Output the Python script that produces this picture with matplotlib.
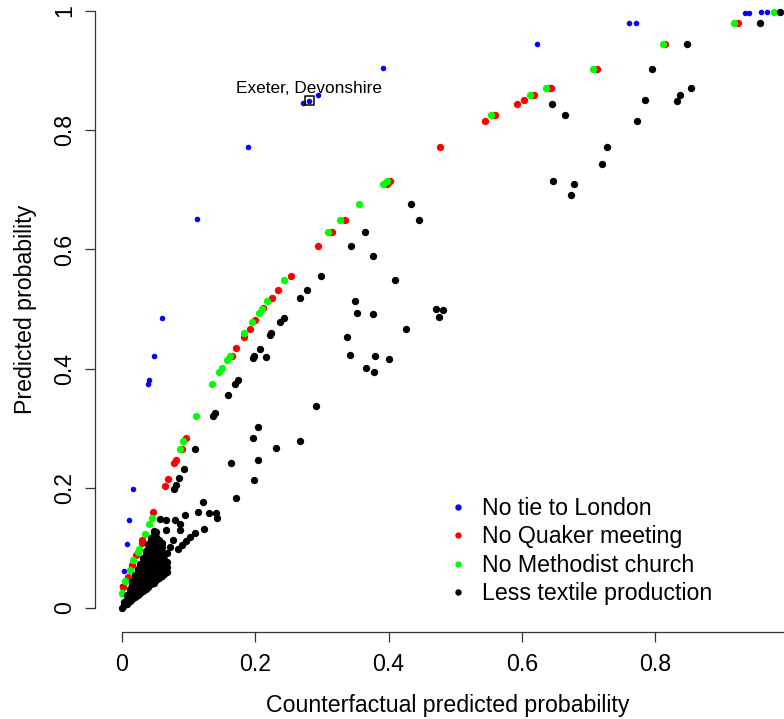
import matplotlib
matplotlib.use("Agg")
import matplotlib.pyplot as plt
from matplotlib.lines import Line2D

plt.rcParams['font.family'] = ['Liberation Sans', 'DejaVu Sans']

# No tie to London
blue_x = [0.968, 0.958, 0.941, 0.934, 0.771, 0.760, 0.623, 0.392, 0.295, 0.281,
          0.272, 0.190, 0.113, 0.061, 0.048, 0.041, 0.039, 0.0165, 0.011, 0.0075,
          0.0034, 0.001, 0.0]
blue_y = [0.998, 0.998, 0.996, 0.996, 0.980, 0.980, 0.944, 0.904, 0.858, 0.849,
          0.845, 0.772, 0.651, 0.485, 0.422, 0.381, 0.374, 0.198, 0.147, 0.106,
          0.062, 0.037, 0.023]

# No Quaker meeting
red_x = [0.924, 0.815, 0.712, 0.644, 0.642, 0.618, 0.603, 0.592, 0.560, 0.544,
         0.477, 0.402, 0.397, 0.335, 0.315, 0.294, 0.254, 0.235, 0.226, 0.212,
         0.200, 0.192, 0.184, 0.172, 0.166, 0.097, 0.090, 0.081, 0.079, 0.069,
         0.065, 0.047, 0.031, 0.030, 0.021, 0.015, 0.009, 0.0025]
red_y = [0.980, 0.944, 0.903, 0.870, 0.870, 0.858, 0.850, 0.844, 0.825, 0.816,
         0.772, 0.714, 0.710, 0.649, 0.629, 0.606, 0.556, 0.532, 0.518, 0.502,
         0.482, 0.466, 0.453, 0.435, 0.422, 0.285, 0.266, 0.247, 0.242, 0.215,
         0.203, 0.160, 0.113, 0.108, 0.088, 0.072, 0.052, 0.035]

# No Methodist church
green_x = [0.978, 0.918, 0.811, 0.707, 0.636, 0.612, 0.554, 0.392, 0.397, 0.355,
           0.328, 0.309, 0.243, 0.218, 0.211, 0.206, 0.195, 0.184, 0.162, 0.158,
           0.150, 0.146, 0.136, 0.111, 0.092, 0.087, 0.045, 0.041, 0.035, 0.026,
           0.024, 0.017, 0.012, 0.005, 0.0]
green_y = [0.997, 0.979, 0.944, 0.903, 0.870, 0.858, 0.825, 0.710, 0.715, 0.676,
           0.649, 0.629, 0.549, 0.514, 0.501, 0.493, 0.478, 0.460, 0.422, 0.415,
           0.401, 0.394, 0.374, 0.321, 0.279, 0.266, 0.151, 0.141, 0.123, 0.099,
           0.094, 0.080, 0.063, 0.044, 0.024]

# Less textile production, scattered counties
black_x = [0.987, 0.957, 0.848, 0.795, 0.854, 0.837, 0.833, 0.784, 0.773, 0.645,
           0.665, 0.728, 0.720, 0.646, 0.678, 0.674, 0.433, 0.445, 0.365, 0.343,
           0.377, 0.299, 0.410, 0.278, 0.268, 0.350, 0.352, 0.376, 0.471, 0.482,
           0.475, 0.243, 0.238, 0.426, 0.224, 0.222, 0.338, 0.207, 0.199, 0.197,
           0.217, 0.342, 0.380, 0.400, 0.366, 0.378, 0.175, 0.170, 0.159, 0.291,
           0.140, 0.137, 0.205, 0.197, 0.267, 0.232, 0.110, 0.164, 0.205, 0.093,
           0.086, 0.199, 0.082, 0.078, 0.172, 0.122, 0.115, 0.131, 0.141, 0.143,
           0.095, 0.124, 0.110, 0.102, 0.096, 0.090, 0.085, 0.057, 0.066, 0.080,
           0.088, 0.066, 0.087, 0.077, 0.072, 0.068, 0.062, 0.055, 0.060, 0.055,
           0.050]
black_y = [0.997, 0.980, 0.944, 0.903, 0.870, 0.858, 0.849, 0.850, 0.816, 0.844,
           0.825, 0.772, 0.743, 0.714, 0.709, 0.691, 0.676, 0.649, 0.629, 0.606,
           0.589, 0.556, 0.549, 0.532, 0.518, 0.514, 0.494, 0.492, 0.501, 0.499,
           0.487, 0.485, 0.479, 0.467, 0.460, 0.456, 0.454, 0.434, 0.422, 0.419,
           0.420, 0.423, 0.422, 0.416, 0.401, 0.395, 0.381, 0.375, 0.357, 0.337,
           0.326, 0.321, 0.302, 0.284, 0.279, 0.268, 0.266, 0.242, 0.247, 0.233,
           0.217, 0.214, 0.206, 0.198, 0.183, 0.177, 0.160, 0.159, 0.158, 0.150,
           0.155, 0.131, 0.125, 0.118, 0.112, 0.105, 0.099, 0.149, 0.147, 0.147,
           0.140, 0.130, 0.130, 0.113, 0.102, 0.091, 0.083, 0.074, 0.108, 0.097,
           0.088]

# Less textile production, the dense group of small counties near the origin
wedge_x = [0.000, 0.004, 0.004, 0.008, 0.008, 0.008,
           0.012, 0.012, 0.012, 0.012,
           0.016, 0.016, 0.016, 0.016, 0.016,
           0.020, 0.020, 0.020, 0.020, 0.020, 0.020,
           0.024, 0.024, 0.024, 0.024, 0.024, 0.024, 0.024,
           0.028, 0.028, 0.028, 0.028, 0.028, 0.028, 0.028,
           0.032, 0.032, 0.032, 0.032, 0.032, 0.032, 0.032, 0.032,
           0.036, 0.036, 0.036, 0.036, 0.036, 0.036, 0.036, 0.036, 0.036,
           0.040, 0.040, 0.040, 0.040, 0.040, 0.040, 0.040, 0.040, 0.040, 0.040,
           0.044, 0.044, 0.044, 0.044, 0.044, 0.044, 0.044, 0.044, 0.044, 0.044, 0.044,
           0.048, 0.048, 0.048, 0.048, 0.048, 0.048, 0.048, 0.048, 0.048, 0.048, 0.048, 0.048,
           0.052, 0.052, 0.052, 0.052, 0.052, 0.052, 0.052, 0.052, 0.052, 0.052, 0.052,
           0.056, 0.056, 0.056, 0.056, 0.056, 0.056, 0.056, 0.056, 0.056,
           0.060, 0.060, 0.060, 0.060, 0.060, 0.060, 0.060,
           0.064, 0.064, 0.064, 0.064, 0.064,
           0.068, 0.068, 0.068]
wedge_y = [0.000, 0.004, 0.010, 0.007, 0.014, 0.021,
           0.011, 0.018, 0.025, 0.032,
           0.014, 0.022, 0.030, 0.038, 0.043,
           0.018, 0.026, 0.034, 0.042, 0.050, 0.054,
           0.021, 0.029, 0.037, 0.045, 0.053, 0.061, 0.065,
           0.025, 0.033, 0.041, 0.049, 0.057, 0.065, 0.073,
           0.028, 0.036, 0.044, 0.052, 0.060, 0.068, 0.076, 0.084,
           0.032, 0.040, 0.048, 0.056, 0.064, 0.072, 0.080, 0.088, 0.095,
           0.035, 0.043, 0.051, 0.059, 0.067, 0.075, 0.083, 0.091, 0.099, 0.106,
           0.039, 0.047, 0.055, 0.063, 0.071, 0.079, 0.087, 0.095, 0.103, 0.111, 0.117,
           0.042, 0.050, 0.058, 0.066, 0.074, 0.082, 0.090, 0.098, 0.106, 0.114, 0.122, 0.128,
           0.046, 0.054, 0.062, 0.070, 0.078, 0.086, 0.094, 0.102, 0.110, 0.118, 0.126,
           0.049, 0.057, 0.065, 0.073, 0.081, 0.089, 0.097, 0.105, 0.113,
           0.053, 0.061, 0.069, 0.077, 0.085, 0.093, 0.101,
           0.056, 0.064, 0.072, 0.080, 0.088,
           0.060, 0.068, 0.076]

# highlighted county
exeter_x, exeter_y = 0.281, 0.849
exeter_label = "Exeter, Devonshire"

tick_vals = [0, 0.2, 0.4, 0.6, 0.8, 1]
tick_labels = ["0", "0.2", "0.4", "0.6", "0.8", "1"]

series_labels = ["No tie to London", "No Quaker meeting",
                 "No Methodist church", "Less textile production"]
series_colors = ["#0000ff", "#ff0000", "#00ff00", "#000000"]

fig = plt.figure(figsize=(7.84, 7.19), dpi=100)
ax = fig.add_axes([0.1212, 0.1216, 0.9189, 0.8968])

ax.scatter(blue_x, blue_y, s=16, color=series_colors[0], linewidths=0, zorder=2)
ax.scatter(red_x, red_y, s=28, color=series_colors[1], linewidths=0, zorder=3)
ax.scatter(green_x, green_y, s=28, color=series_colors[2], linewidths=0, zorder=4)
ax.scatter(black_x + wedge_x, black_y + wedge_y, s=28, color=series_colors[3],
           linewidths=0, zorder=5)

# Exeter box + label
ax.scatter([exeter_x], [exeter_y], s=40, marker='s', facecolors='none',
           edgecolors='black', linewidths=1.1, zorder=6)
ax.annotate(exeter_label, (exeter_x, exeter_y), xytext=(0, 9),
            textcoords='offset points', ha='center', va='center', fontsize=12.4)

ax.set_xlim(-0.04, 1.04)
ax.set_ylim(-0.04, 1.04)

for s in ['top', 'right']:
    ax.spines[s].set_visible(False)
for s in ['left', 'bottom']:
    ax.spines[s].set_bounds(0, 1)
    ax.spines[s].set_linewidth(0.9)
    ax.spines[s].set_color('#333333')

ax.set_xticks(tick_vals)
ax.set_xticklabels(tick_labels, fontsize=16.7)
ax.set_yticks(tick_vals)
ax.set_yticklabels(tick_labels, fontsize=16.7, rotation=90, va='center')
ax.tick_params(axis='both', length=7.2, width=0.9, color='#333333')
ax.tick_params(axis='x', pad=8.0)
ax.tick_params(axis='y', pad=6.5)

ax.set_xlabel("Counterfactual predicted probability", fontsize=16.7, va='center')
ax.xaxis.set_label_coords(0.49, -0.114)
ax.set_ylabel("Predicted probability", fontsize=16.7, va='center')
ax.yaxis.set_label_coords(-0.097, 0.5)

handles = [Line2D([], [], linestyle='none', marker='o', markersize=4.6,
                  markerfacecolor=c, markeredgewidth=0) for c in series_colors]
fig.legend(handles, series_labels, loc='center left',
           bbox_to_anchor=(452.5 / 784, 1 - 551 / 719), frameon=False,
           fontsize=16.7, handlelength=0.5, handletextpad=0.76,
           labelspacing=0.23, borderpad=0, borderaxespad=0)

fig.savefig("out.png", dpi=100)
